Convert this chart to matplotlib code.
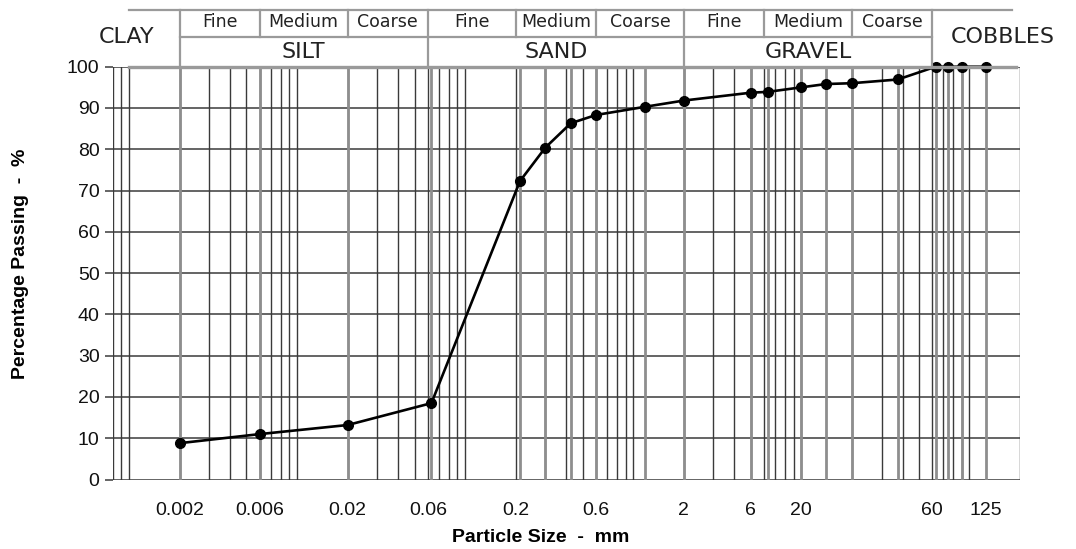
import numpy as np
import matplotlib
matplotlib.use("Agg")
import matplotlib.pyplot as plt
from matplotlib.transforms import blended_transform_factory
from matplotlib.ticker import NullLocator, FixedLocator, FixedFormatter

# ---------------- data ----------------
sizes_mm = [0.002, 0.006, 0.02, 0.063, 0.212, 0.3, 0.425, 0.6, 1.18, 2,
            5, 6.3, 10, 14, 20, 37.5, 63, 75, 90, 125]
passing = [8.8, 11.0, 13.2, 18.5, 72.3, 80.4, 86.3, 88.3, 90.3, 91.8,
           93.7, 93.9, 95.0, 95.8, 96.0, 96.9, 100, 100, 100, 100]

xtick_pos = [0.002, 0.006, 0.02, 0.06, 0.2, 0.6, 2, 5, 10, 60, 125]
xtick_labels = ['0.002', '0.006', '0.02', '0.06', '0.2', '0.6', '2', '6', '20', '60', '125']
ytick_vals = list(range(0, 101, 10))

# classification header
main_bounds = [0.002, 0.06, 2, 60]
sub_bounds = [0.006, 0.02, 0.2, 0.6, 6, 20]
groups = ['SILT', 'SAND', 'GRAVEL']
subgroups = ['Fine', 'Medium', 'Coarse']
all_bounds = [0.002, 0.006, 0.02, 0.06, 0.2, 0.6, 2, 6, 20, 60]

DARK = '#3a3a3a'
GRAY = '#8e8e8e'
HDR = '#9a9a9a'

plt.rcParams['font.family'] = ['Liberation Sans', 'DejaVu Sans']

fig = plt.figure(figsize=(10.76, 5.49), dpi=100)
ax = fig.add_axes([0.10474, 0.12659, 0.84322, 0.75192])
ax.set_xscale('log')
ax.set_xlim(0.0008, 200)
ax.set_ylim(0, 100)

for s in ax.spines.values():
    s.set_visible(False)

# dark log grid
grid_vals = [m * 10.0 ** e for e in range(-4, 3) for m in range(1, 10)]
grid_vals = [g for g in grid_vals if 0.0008 * 0.999 <= g <= 200 * 1.001]
for g in grid_vals:
    ax.axvline(g, color=DARK, lw=1.0, zorder=1)
for yv in ytick_vals:
    ax.axhline(yv, color=DARK, lw=1.1, zorder=1)

# sieve lines (gray)
for s in sizes_mm:
    ax.axvline(s, color=GRAY, lw=2.0, zorder=2)

# grading curve
ax.plot(sizes_mm, passing, '-o', color='black', lw=1.9, ms=7,
        zorder=5, clip_on=False)

# ticks
ax.xaxis.set_major_locator(FixedLocator(xtick_pos))
ax.xaxis.set_major_formatter(FixedFormatter(xtick_labels))
ax.xaxis.set_minor_locator(NullLocator())
ax.set_yticks(ytick_vals)
ax.tick_params(axis='x', length=0, pad=16, labelsize=14, labelcolor='#111111')
ax.tick_params(axis='y', length=5.5, width=1.1, color=DARK, pad=4,
               labelsize=14, labelcolor='#111111')

fig.text(541 / 1076, 1 - 537 / 549, 'Particle Size  -  mm', ha='center', va='center',
         fontsize=14, fontweight='bold')
fig.text(21 / 1076, 1 - 264 / 549, 'Percentage Passing  -  %', ha='center', va='center',
         rotation=90, fontsize=14, fontweight='bold')

# ---------------- header table ----------------
tr = blended_transform_factory(ax.transData, ax.transAxes)
y_top, y_mid, y_bot = 1.1374, 1.0720, 1.0
hkw = dict(transform=tr, color=HDR, lw=1.6, clip_on=False, zorder=6)
ax.plot([0.001, 180], [y_top, y_top], **hkw)
ax.plot([all_bounds[0], all_bounds[-1]], [y_mid, y_mid], **hkw)
ax.plot([0.001, 190], [y_bot, y_bot], color=HDR, lw=2.4, transform=tr,
        clip_on=False, zorder=6)
for b in main_bounds:
    ax.plot([b, b], [y_bot, y_top], **hkw)
for b in sub_bounds:
    ax.plot([b, b], [y_mid, y_top], **hkw)

tkw = dict(transform=tr, ha='center', va='center', color='#222222',
           family=['DejaVu Sans'], clip_on=False)
for i, g in enumerate(groups):
    lo, hi = main_bounds[i], main_bounds[i + 1]
    ax.text(np.sqrt(lo * hi), 1.0363, g, fontsize=16, **tkw)
    edges = all_bounds[3 * i:3 * i + 4]
    for j, sg in enumerate(subgroups):
        ax.text(np.sqrt(edges[j] * edges[j + 1]), 1.1076, sg, fontsize=12.5, **tkw)
ax.text(0.00097, 1.072, 'CLAY', fontsize=16, **tkw)
ax.text(158, 1.072, 'COBBLES', fontsize=16, **tkw)

fig.savefig('out.png', dpi=100)
